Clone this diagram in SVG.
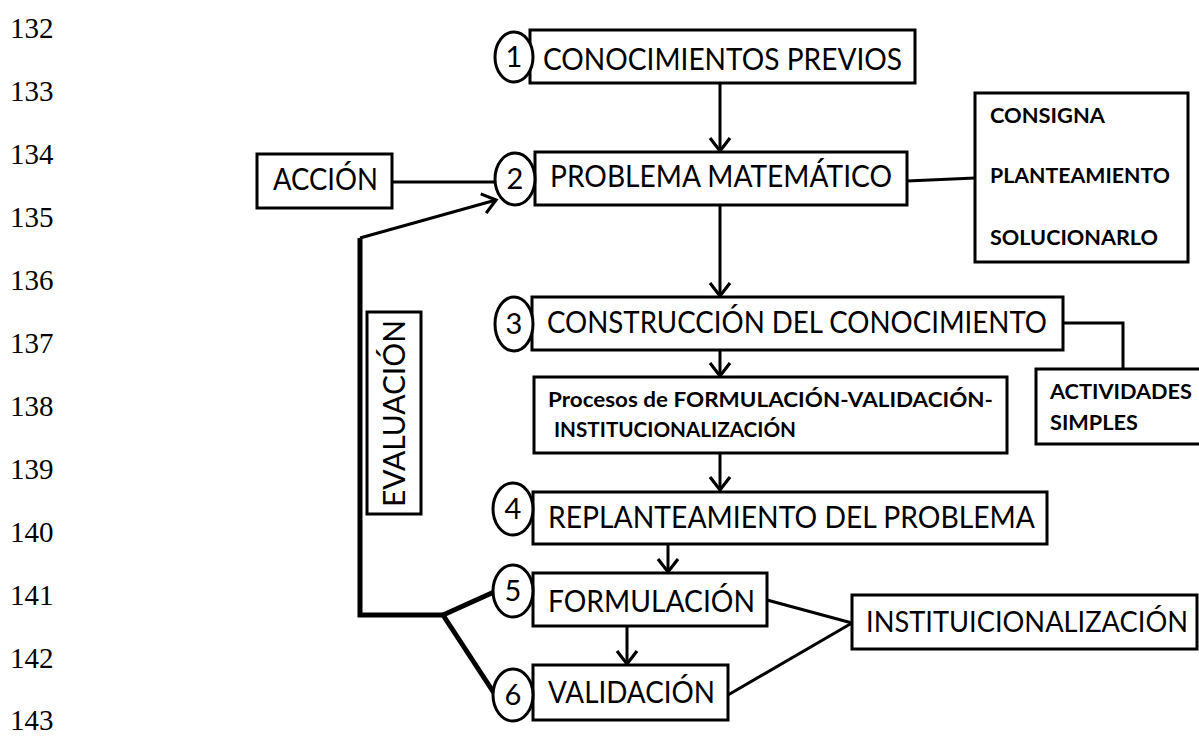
<svg xmlns="http://www.w3.org/2000/svg" width="1199" height="736" viewBox="0 0 1199 736">
<defs>
<style>
.ln{font-family:"Liberation Serif",serif;font-size:29px;fill:#000}
.t{font-family:Lato,"Open Sans","Liberation Sans",sans-serif;font-size:30px;fill:#000}
.b{font-family:Lato,"Open Sans","Liberation Sans",sans-serif;font-size:21px;font-weight:bold;fill:#000}
.n{font-family:Lato,"Open Sans","Liberation Sans",sans-serif;font-size:29px;fill:#000;text-anchor:middle}
.box{fill:#fff;stroke:#000;stroke-width:3}
.circ{fill:#fff;stroke:#000;stroke-width:3}
.c{fill:none;stroke:#000;stroke-width:3;stroke-linejoin:miter}
.thick{fill:none;stroke:#000;stroke-width:5;stroke-linejoin:miter}
</style>
<marker id="ah" markerUnits="userSpaceOnUse" markerWidth="30" markerHeight="30" refX="0" refY="0" orient="auto" overflow="visible">
<path d="M-13,-10 L0,0 L-13,10" fill="none" stroke="#000" stroke-width="3.2" stroke-linejoin="miter"/>
</marker>
</defs>
<rect width="1199" height="736" fill="#fff"/>
<g id="line-numbers">
<text class="ln" x="10" y="38">132</text>
<text class="ln" x="10" y="101">133</text>
<text class="ln" x="10" y="164">134</text>
<text class="ln" x="10" y="227">135</text>
<text class="ln" x="10" y="290">136</text>
<text class="ln" x="10" y="353">137</text>
<text class="ln" x="10" y="416">138</text>
<text class="ln" x="10" y="479">139</text>
<text class="ln" x="10" y="542">140</text>
<text class="ln" x="10" y="605">141</text>
<text class="ln" x="10" y="668">142</text>
<text class="ln" x="10" y="730">143</text>
</g>
<g id="connectors">
<line class="c" x1="720" y1="83" x2="720" y2="151" marker-end="url(#ah)"/>
<line class="c" x1="720" y1="205" x2="720" y2="296" marker-end="url(#ah)"/>
<line class="c" x1="720" y1="350" x2="720" y2="376" marker-end="url(#ah)"/>
<line class="c" x1="720" y1="453" x2="720" y2="490" marker-end="url(#ah)"/>
<line class="c" x1="668" y1="544" x2="668" y2="572" marker-end="url(#ah)"/>
<line class="c" x1="627" y1="626" x2="627" y2="664" marker-end="url(#ah)"/>
<line class="c" x1="392" y1="182" x2="495" y2="182"/>
<line class="c" x1="907" y1="181" x2="975" y2="178"/>
<polyline class="c" points="1063,323 1123,323 1123,369"/>
<polyline class="thick" points="443,615 360,615 360,238"/>
<line class="c" x1="360" y1="238" x2="496" y2="200" stroke-width="3.5" marker-end="url(#ah)"/>
<line class="thick" x1="443" y1="615" x2="494" y2="592"/>
<line class="thick" x1="443" y1="615" x2="494" y2="693"/>
<line class="c" x1="767" y1="600" x2="852" y2="623" stroke-width="3.5"/>
<line class="c" x1="728" y1="695" x2="852" y2="623" stroke-width="3.5"/>
</g>
<g id="n1">
<rect class="box" x="530" y="30" width="385" height="53"/>
<ellipse class="circ" cx="514" cy="57" rx="19" ry="25"/>
<text class="n" x="514" y="67">1</text>
<text class="t" x="543" y="70" textLength="359" lengthAdjust="spacingAndGlyphs">CONOCIMIENTOS PREVIOS</text>
</g>
<g id="n2">
<rect class="box" x="535" y="152" width="372" height="53"/>
<ellipse class="circ" cx="515" cy="179" rx="20" ry="26"/>
<text class="n" x="515" y="189">2</text>
<text class="t" x="550" y="187" textLength="342" lengthAdjust="spacingAndGlyphs">PROBLEMA MATEMÁTICO</text>
</g>
<g id="accion">
<rect class="box" x="257" y="154" width="135" height="54"/>
<text class="t" x="273" y="190" textLength="105" lengthAdjust="spacingAndGlyphs">ACCIÓN</text>
</g>
<g id="consigna">
<rect class="box" x="975" y="93" width="213" height="169"/>
<text class="b" x="990" y="123" textLength="115" lengthAdjust="spacingAndGlyphs">CONSIGNA</text>
<text class="b" x="990" y="183" textLength="180" lengthAdjust="spacingAndGlyphs">PLANTEAMIENTO</text>
<text class="b" x="990" y="245" textLength="168" lengthAdjust="spacingAndGlyphs">SOLUCIONARLO</text>
</g>
<g id="n3">
<rect class="box" x="532" y="297" width="531" height="53"/>
<ellipse class="circ" cx="514" cy="324" rx="19" ry="27"/>
<text class="n" x="514" y="334">3</text>
<text class="t" x="547" y="333" textLength="500" lengthAdjust="spacingAndGlyphs">CONSTRUCCIÓN DEL CONOCIMIENTO</text>
</g>
<g id="procesos">
<rect class="box" x="534" y="377" width="473" height="76"/>
<text class="b" x="548" y="407" textLength="445" lengthAdjust="spacingAndGlyphs">Procesos de FORMULACIÓN-VALIDACIÓN-</text>
<text class="b" x="554" y="437" textLength="242" lengthAdjust="spacingAndGlyphs">INSTITUCIONALIZACIÓN</text>
</g>
<g id="actividades">
<rect class="box" x="1036" y="369" width="170" height="75"/>
<text class="b" x="1050" y="399" textLength="142" lengthAdjust="spacingAndGlyphs">ACTIVIDADES</text>
<text class="b" x="1050" y="430" textLength="88" lengthAdjust="spacingAndGlyphs">SIMPLES</text>
</g>
<g id="evaluacion">
<rect class="box" x="367" y="312" width="54" height="202"/>
<text class="t" transform="translate(405,507) rotate(-90)" x="0" y="0" textLength="187" lengthAdjust="spacingAndGlyphs">EVALUACIÓN</text>
</g>
<g id="n4">
<rect class="box" x="533" y="492" width="514" height="52"/>
<ellipse class="circ" cx="513" cy="509" rx="20" ry="26"/>
<text class="n" x="513" y="519">4</text>
<text class="t" x="548" y="528" textLength="487" lengthAdjust="spacingAndGlyphs">REPLANTEAMIENTO DEL PROBLEMA</text>
</g>
<g id="n5">
<rect class="box" x="533" y="573" width="234" height="53"/>
<ellipse class="circ" cx="513" cy="591" rx="20" ry="26"/>
<text class="n" x="513" y="601">5</text>
<text class="t" x="548" y="612" textLength="207" lengthAdjust="spacingAndGlyphs">FORMULACIÓN</text>
</g>
<g id="n6">
<rect class="box" x="533" y="665" width="195" height="55"/>
<ellipse class="circ" cx="513" cy="695" rx="20" ry="26"/>
<text class="n" x="513" y="705">6</text>
<text class="t" x="548" y="703" textLength="167" lengthAdjust="spacingAndGlyphs">VALIDACIÓN</text>
</g>
<g id="instit">
<rect class="box" x="852" y="595" width="345" height="54"/>
<text class="t" x="866" y="632" style="font-size:28px" textLength="322" lengthAdjust="spacingAndGlyphs">INSTITUICIONALIZACIÓN</text>
</g>
</svg>
